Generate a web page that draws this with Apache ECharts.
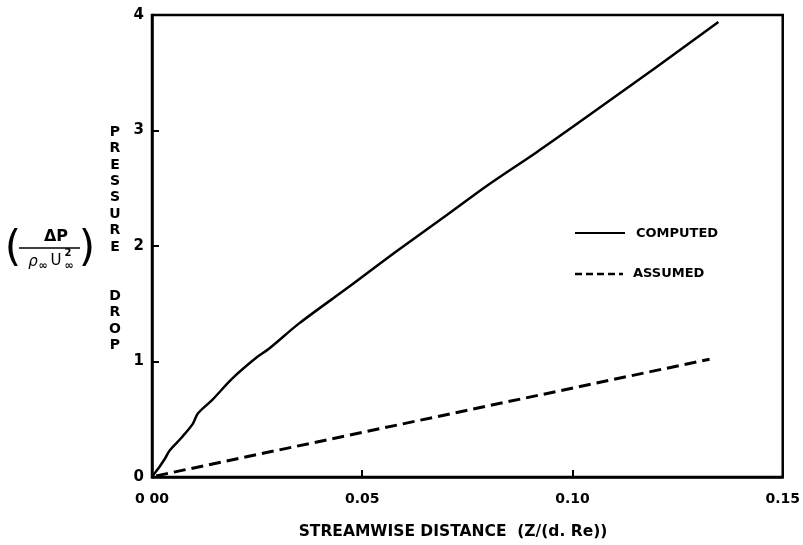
<!DOCTYPE html>
<html>
<head>
<meta charset="utf-8">
<script src="https://cdn.jsdelivr.net/npm/echarts@6/dist/echarts.min.js"></script>
<style>html,body{margin:0;padding:0;background:#fff;}#c{width:803px;height:545px;}</style>
</head>
<body>
<div id="c"></div>
<script>
// ---- data ----
const xTickValues = [0, 0.05, 0.10, 0.15];
const xTickLabels = ['0 00', '0.05', '0.10', '0.15'];
const yTickLabels = ['0', '1', '2', '3', '4'];
const computedX = [0, 0.0008, 0.002, 0.0031, 0.0042, 0.007, 0.0097, 0.0109, 0.0144, 0.019, 0.0247, 0.0278, 0.035, 0.0466, 0.058, 0.0702, 0.08, 0.0914, 0.1, 0.11, 0.12, 0.1347];
const computedY = [0, 0.04, 0.10, 0.16, 0.23, 0.34, 0.46, 0.55, 0.67, 0.85, 1.03, 1.11, 1.33, 1.64, 1.95, 2.27, 2.53, 2.81, 3.03, 3.29, 3.55, 3.94];
const assumedX = [0.001, 0.1326];
const assumedY = [0.01, 1.02];
const seriesNames = ['COMPUTED', 'ASSUMED'];
const xTitle = 'STREAMWISE DISTANCE  (Z/(d. Re))';
const yTitleWords = ['PRESSURE', 'DROP'];

const FONT = 'DejaVu Sans';
const chart = echarts.init(document.getElementById('c'), null, {renderer: 'canvas'});
const pairs = (xs, ys) => xs.map((x, i) => [x, ys[i]]);
const yTitle = yTitleWords.map(w => w.split('').join('\n')).join('\n\n\n');

chart.setOption({
  animation: false,
  backgroundColor: '#fff',
  grid: {left: 152, right: 15, top: 15, bottom: 68, show: true, borderColor: '#000', borderWidth: 2.5, backgroundColor: 'transparent'},
  xAxis: {
    type: 'value', min: 0, max: 0.15, interval: 0.05,
    axisLine: {show: true, lineStyle: {color: '#000', width: 2.5}},
    axisTick: {show: true, inside: true, length: 7, lineStyle: {color: '#000', width: 2}},
    splitLine: {show: false},
    axisLabel: {
      margin: 15, color: '#000', fontFamily: FONT, fontWeight: 'bold', fontSize: 14,
      formatter: v => { const i = xTickValues.findIndex(t => Math.abs(t - v) < 1e-9); return i >= 0 ? xTickLabels[i] : ''; }
    }
  },
  yAxis: {
    type: 'value', min: 0, max: 4, interval: 1,
    axisLine: {show: true, lineStyle: {color: '#000', width: 2.5}},
    axisTick: {show: true, inside: true, length: 7, lineStyle: {color: '#000', width: 2}},
    splitLine: {show: false},
    axisLabel: {
      margin: 8, color: '#000', fontFamily: FONT, fontWeight: 'bold', fontSize: 15,
      formatter: v => yTickLabels[Math.round(v)] || ''
    }
  },
  series: [
    {name: seriesNames[0], type: 'line', data: pairs(computedX, computedY), showSymbol: false, symbol: 'none', smooth: 0.3,
     lineStyle: {color: '#000', width: 2.5}, itemStyle: {color: '#000'}},
    {name: seriesNames[1], type: 'line', data: pairs(assumedX, assumedY), showSymbol: false, symbol: 'none',
     lineStyle: {color: '#000', width: 3, type: [12, 6]}, itemStyle: {color: '#000'}}
  ],
  graphic: [
    {type: 'text', x: 453, y: 532, style: {text: xTitle, fontFamily: FONT, fontWeight: 'bold', fontSize: 15.5, fill: '#000', align: 'center', verticalAlign: 'middle'}},
    {type: 'text', x: 115, y: 124, style: {text: yTitle, fontFamily: FONT, fontWeight: 'bold', fontSize: 14, lineHeight: 16.4, fill: '#000', align: 'center', verticalAlign: 'top'}},
    // legend
    {type: 'line', shape: {x1: 575, y1: 233, x2: 625, y2: 233}, style: {stroke: '#000', lineWidth: 2}},
    {type: 'text', x: 636, y: 234, style: {text: seriesNames[0], fontFamily: FONT, fontWeight: 'bold', fontSize: 13, fill: '#000', align: 'left', verticalAlign: 'middle'}},
    {type: 'line', shape: {x1: 575, y1: 274, x2: 623, y2: 274}, style: {stroke: '#000', lineWidth: 2.5, lineDash: [7, 4]}},
    {type: 'text', x: 633, y: 274, style: {text: seriesNames[1], fontFamily: FONT, fontWeight: 'bold', fontSize: 13, fill: '#000', align: 'left', verticalAlign: 'middle'}},
    // ratio label (ΔP / ρ∞U∞²)
    {type: 'text', x: 13, y: 250, style: {text: '(', fontFamily: FONT, fontSize: 42, fill: '#000', align: 'center', verticalAlign: 'middle'}},
    {type: 'text', x: 87, y: 250, style: {text: ')', fontFamily: FONT, fontSize: 42, fill: '#000', align: 'center', verticalAlign: 'middle'}},
    {type: 'text', x: 56, y: 237, style: {text: 'ΔP', fontFamily: FONT, fontWeight: 'bold', fontSize: 16, fill: '#000', align: 'center', verticalAlign: 'middle'}},
    {type: 'line', shape: {x1: 19, y1: 248, x2: 80, y2: 248}, style: {stroke: '#000', lineWidth: 1.5}},
    {type: 'text', x: 33, y: 262, style: {text: 'ρ', fontFamily: FONT, fontStyle: 'italic', fontSize: 15, fill: '#000', align: 'center', verticalAlign: 'middle'}},
    {type: 'text', x: 43, y: 266, style: {text: '∞', fontFamily: FONT, fontWeight: 'bold', fontSize: 11, fill: '#000', align: 'center', verticalAlign: 'middle'}},
    {type: 'text', x: 56, y: 261, style: {text: 'U', fontFamily: FONT, fontSize: 15, fill: '#000', align: 'center', verticalAlign: 'middle'}},
    {type: 'text', x: 69, y: 266, style: {text: '∞', fontFamily: FONT, fontWeight: 'bold', fontSize: 11, fill: '#000', align: 'center', verticalAlign: 'middle'}},
    {type: 'text', x: 68, y: 253, style: {text: '2', fontFamily: FONT, fontWeight: 'bold', fontSize: 10, fill: '#000', align: 'center', verticalAlign: 'middle'}}
  ]
});
</script>
</body>
</html>
